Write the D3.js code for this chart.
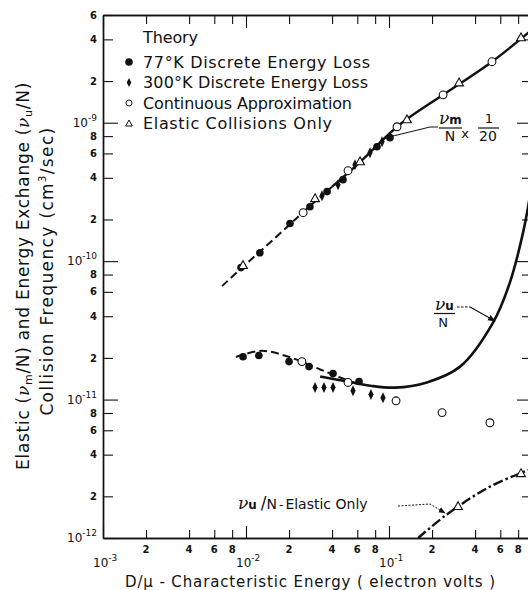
<!DOCTYPE html>
<html>
<head>
<meta charset="utf-8">
<script src="https://cdn.jsdelivr.net/npm/d3@7"></script>
<style>
  html, body { margin: 0; padding: 0; background: #fff; }
  svg { display: block; font-family: "DejaVu Sans", sans-serif; }
</style>
</head>
<body>
<div id="chart"></div>
<script>
const W = 528;
const H = 590;

// axis ticks
const xMajorTicks = [1e-3, 1e-2, 1e-1, 1];
const xMinorTicks = [2e-3, 4e-3, 6e-3, 8e-3, 2e-2, 4e-2, 6e-2, 8e-2, 2e-1, 4e-1, 6e-1, 8e-1];
const xMinorLabels = ['2', '4', '6', '8', '2', '4', '6', '8', '2', '4', '6', '8'];
const xMajorLabels = ['-3', '-2', '-1'];
const yMajorTicks = [1e-12, 1e-11, 1e-10, 1e-9];
const yMinorTicks = [2e-12, 4e-12, 6e-12, 8e-12, 2e-11, 4e-11, 6e-11, 8e-11,
  2e-10, 4e-10, 6e-10, 8e-10, 2e-9, 4e-9, 6e-9];
const yMinorLabels = ['2', '4', '6', '8', '2', '4', '6', '8', '2', '4', '6', '8', '2', '4', '6'];
const yMajorLabels = ['-12', '-11', '-10', '-9'];

// theory curves  [D/mu (eV), frequency (cm^3/sec)]
const vmDashed = [[0.0068, 6.6e-11], [0.0095, 9.1e-11], [0.0125, 1.17e-10], [0.02, 1.82e-10],
  [0.025, 2.25e-10], [0.04, 3.45e-10]];
const vmSolid = [[0.04, 3.45e-10], [0.0627, 5.2e-10], [0.119, 9.7e-10], [0.239, 1.59e-9],
  [0.525, 2.76e-9], [0.95, 4.5e-9]];
const vuDashed = [[0.0085, 2.03e-11], [0.0129, 2.25e-11], [0.0203, 2.02e-11], [0.033, 1.65e-11],
  [0.045, 1.45e-11], [0.06, 1.3e-11]];
const vuSolid = [[0.033, 1.47e-11], [0.049, 1.36e-11], [0.074, 1.26e-11], [0.11, 1.22e-11],
  [0.184, 1.33e-11], [0.314, 1.73e-11], [0.534, 3.6e-11], [0.70, 7.0e-11], [0.865, 1.6e-10],
  [0.97, 3.0e-10]];
const vuElastic = [[0.16, 1e-12], [0.254, 1.48e-12], [0.508, 2.35e-12], [0.95, 3.1e-12]];

// measured points
const pts77K = [[0.00923, 8.98e-11], [0.0125, 1.15e-10], [0.0203, 1.87e-10], [0.028, 2.47e-10],
  [0.0369, 3.18e-10], [0.0477, 3.88e-10], [0.0824, 6.71e-10], [0.1016, 7.8e-10],
  [0.00953, 2.04e-11], [0.0123, 2.08e-11], [0.020, 1.88e-11], [0.0276, 1.73e-11],
  [0.0406, 1.54e-11], [0.0617, 1.35e-11]];
const pts300K = [[0.034, 2.97e-10], [0.044, 3.57e-10], [0.0578, 4.97e-10], [0.0736, 6.07e-10],
  [0.0894, 7.29e-10],
  [0.0304, 1.22e-11], [0.0351, 1.22e-11], [0.0406, 1.22e-11], [0.056, 1.16e-11],
  [0.0748, 1.09e-11], [0.0908, 1.03e-11]];
const ptsContinuous = [[0.0251, 2.24e-10], [0.0517, 4.5e-10], [0.1138, 9.35e-10], [0.239, 1.59e-9],
  [0.525, 2.76e-9],
  [0.0246, 1.88e-11], [0.0517, 1.33e-11], [0.112, 9.8e-12], [0.235, 8.05e-12], [0.508, 6.8e-12]];
const ptsElastic = [[0.00953, 9.3e-11], [0.0304, 2.83e-10], [0.0627, 5.23e-10], [0.1336, 1.05e-9],
  [0.309, 1.94e-9], [0.838, 4.11e-9],
  [0.304, 1.69e-12], [0.838, 2.92e-12]];

const legendItems = [
  { label: '77°K Discrete Energy Loss', kind: 'dot', len: 227 },
  { label: '300°K Discrete Energy Loss', kind: 'diamond', len: 225 },
  { label: 'Continuous Approximation', kind: 'ring', len: 209 },
  { label: 'Elastic Collisions Only', kind: 'tri', len: 189 }
];

const x = d3.scaleLog().domain([1e-3, 1]).range([103, 532]);
const y = d3.scaleLog().domain([1e-12, 6e-9]).range([538, 15]);

const svg = d3.select('#chart').append('svg')
  .attr('width', W).attr('height', H)
  .attr('viewBox', `0 0 ${W} ${H}`);

const ink = '#111';

svg.append('defs').append('marker')
  .attr('id', 'arrow')
  .attr('viewBox', '0 0 10 10')
  .attr('refX', 9).attr('refY', 5)
  .attr('markerWidth', 7).attr('markerHeight', 7)
  .attr('orient', 'auto')
  .append('path').attr('d', 'M0,1 L10,5 L0,9 Z').attr('fill', ink);

svg.select('defs').append('clipPath').attr('id', 'plot-clip')
  .append('rect').attr('x', 103).attr('y', 15).attr('width', 429).attr('height', 523);

// stretch a (multi-tspan) text to a target length with letter-spacing
function fitText(sel, target) {
  const node = sel.node();
  const natural = node.getComputedTextLength();
  const n = node.textContent.length;
  sel.attr('letter-spacing', ((target - natural) / n).toFixed(2));
}

// frame + ticks
function tickAxis(axis, ticks, len, transform) {
  svg.append('g')
    .attr('transform', transform)
    .call(axis.tickValues(ticks).tickSizeInner(-len).tickSizeOuter(0).tickFormat(''))
    .call((g) => g.selectAll('line').attr('stroke', ink).attr('stroke-width', 1.1))
    .call((g) => g.select('.domain').attr('stroke', ink).attr('stroke-width', 1.4));
}
tickAxis(d3.axisLeft(y), yMinorTicks, 10, 'translate(103,0)');
tickAxis(d3.axisLeft(y), yMajorTicks, 15, 'translate(103,0)');
tickAxis(d3.axisRight(y), yMinorTicks, 10, 'translate(532,0)');
tickAxis(d3.axisRight(y), yMajorTicks, 15, 'translate(532,0)');
tickAxis(d3.axisBottom(x), xMinorTicks, 8, 'translate(0,538)');
tickAxis(d3.axisBottom(x), xMajorTicks, 12, 'translate(0,538)');
tickAxis(d3.axisTop(x), xMinorTicks, 9, 'translate(0,15)');
tickAxis(d3.axisTop(x), xMajorTicks, 13, 'translate(0,15)');

// tick labels
const labels = svg.append('g').attr('fill', ink);
labels.selectAll('.ym').data(yMinorTicks).join('text')
  .attr('x', 97).attr('y', (d) => y(d) + 3.6)
  .attr('text-anchor', 'end').attr('font-size', 10).attr('font-weight', 'bold')
  .text((d, i) => yMinorLabels[i]);
yMajorTicks.forEach((d, i) => {
  const t = labels.append('text').attr('x', 97).attr('y', y(d) + 4)
    .attr('text-anchor', 'end').attr('font-size', 12);
  t.append('tspan').text('10');
  t.append('tspan').attr('dy', -6).attr('font-size', 9).text(yMajorLabels[i]);
});
labels.selectAll('.xm').data(xMinorTicks).join('text')
  .attr('x', (d) => x(d)).attr('y', 553)
  .attr('text-anchor', 'middle').attr('font-size', 10).attr('font-weight', 'bold')
  .text((d, i) => xMinorLabels[i]);
xMajorTicks.slice(0, 3).forEach((d, i) => {
  const t = labels.append('text').attr('x', x(d) - 10).attr('y', 567).attr('font-size', 12);
  t.append('tspan').text('10');
  t.append('tspan').attr('dy', -6).attr('font-size', 9).text(xMajorLabels[i]);
});

// curves
const line = d3.line().x((d) => x(d[0])).y((d) => y(d[1])).curve(d3.curveCatmullRom.alpha(0.5));
const curves = svg.append('g').attr('clip-path', 'url(#plot-clip)').attr('fill', 'none').attr('stroke', ink);
curves.append('path').attr('d', line(vmDashed)).attr('stroke-width', 2).attr('stroke-dasharray', '8,4');
curves.append('path').attr('d', line(vmSolid)).attr('stroke-width', 2.4);
curves.append('path').attr('d', line(vuDashed)).attr('stroke-width', 2).attr('stroke-dasharray', '8,4');
curves.append('path').attr('d', line(vuSolid)).attr('stroke-width', 2.6);
curves.append('path').attr('d', line(vuElastic)).attr('stroke-width', 2.4).attr('stroke-dasharray', '10,3,2.5,3');

// markers
const shapes = {
  dot: (g) => g.append('circle').attr('r', 3.8).attr('fill', ink),
  ring: (g) => g.append('circle').attr('r', 3.9).attr('fill', '#fff').attr('stroke', ink).attr('stroke-width', 1.1),
  diamond: (g) => g.append('path').attr('d', 'M0,-5.5 L2.6,0 L0,5.5 L-2.6,0 Z').attr('fill', ink),
  tri: (g) => g.append('path').attr('d', 'M0,-4.8 L4.4,3 L-4.4,3 Z').attr('fill', '#fff')
    .attr('stroke', ink).attr('stroke-width', 1.1)
};
function drawPoints(data, kind) {
  const g = svg.append('g').attr('clip-path', 'url(#plot-clip)');
  data.forEach((d) => {
    shapes[kind](g.append('g').attr('transform', `translate(${x(d[0])},${y(d[1])})`));
  });
}
drawPoints(pts77K, 'dot');
drawPoints(pts300K, 'diamond');
drawPoints(ptsContinuous, 'ring');
drawPoints(ptsElastic, 'tri');

// legend
const legend = svg.append('g').attr('fill', ink).attr('font-size', 16);
legend.append('text').attr('x', 143).attr('y', 43).attr('textLength', 55).text('Theory');
legendItems.forEach((item, i) => {
  const cy = 62 + i * 20.5;
  const g = legend.append('g').attr('transform', `translate(129,${cy})`);
  if (item.kind === 'dot') g.append('circle').attr('r', 3.8).attr('fill', ink);
  if (item.kind === 'diamond') g.append('path').attr('d', 'M0,-4.5 L2.3,0 L0,4.5 L-2.3,0 Z').attr('fill', ink);
  if (item.kind === 'ring') g.append('circle').attr('r', 3).attr('fill', 'none').attr('stroke', ink);
  if (item.kind === 'tri') g.append('path').attr('d', 'M0,-3.5 L3.3,2.5 L-3.3,2.5 Z').attr('fill', 'none').attr('stroke', ink);
  legend.append('text').attr('x', 143).attr('y', cy + 5.5)
    .attr('textLength', item.len).attr('lengthAdjust', 'spacing').text(item.label);
});

// annotations
const ann = svg.append('g').attr('fill', ink);
function nu(sel, sub, size) {
  sel.append('tspan').attr('font-family', 'DejaVu Serif').attr('font-style', 'italic')
    .attr('font-size', size).text('ν');
  sel.append('tspan').attr('font-size', size * 0.7).attr('font-weight', 'bold').text(sub);
}
// nu_m / N x 1/20
nu(ann.append('text').attr('x', 439).attr('y', 124), 'm', 17);
ann.append('line').attr('x1', 439).attr('x2', 462).attr('y1', 128).attr('y2', 128).attr('stroke', ink).attr('stroke-width', 1.2);
ann.append('text').attr('x', 450).attr('y', 141).attr('text-anchor', 'middle').attr('font-size', 14).text('N');
ann.append('text').attr('x', 465).attr('y', 138).attr('text-anchor', 'middle').attr('font-size', 13).text('x');
ann.append('text').attr('x', 489).attr('y', 123).attr('text-anchor', 'middle').attr('font-size', 13).text('1');
ann.append('line').attr('x1', 478).attr('x2', 499).attr('y1', 128).attr('y2', 128).attr('stroke', ink).attr('stroke-width', 1.2);
ann.append('text').attr('x', 488).attr('y', 141).attr('text-anchor', 'middle').attr('font-size', 14).text('20');
ann.append('polyline').attr('points', '438,127 430,127 385,138')
  .attr('fill', 'none').attr('stroke', ink).attr('stroke-width', 1).attr('marker-end', 'url(#arrow)');

// nu_u / N
nu(ann.append('text').attr('x', 435).attr('y', 310), 'u', 17);
ann.append('line').attr('x1', 434).attr('x2', 455).attr('y1', 313.5).attr('y2', 313.5).attr('stroke', ink).attr('stroke-width', 1.2);
ann.append('text').attr('x', 443).attr('y', 327).attr('text-anchor', 'middle').attr('font-size', 13).text('N');
ann.append('path').attr('d', 'M457,307 L470,307')
  .attr('fill', 'none').attr('stroke', ink).attr('stroke-width', 1).attr('stroke-dasharray', '2.5,1.5');
ann.append('path').attr('d', 'M470,307 L495,321')
  .attr('fill', 'none').attr('stroke', ink).attr('stroke-width', 1.1).attr('marker-end', 'url(#arrow)');

// nu_u / N - Elastic Only
const eo = ann.append('text').attr('x', 238).attr('y', 509).attr('font-size', 14);
nu(eo, 'u', 17);
eo.append('tspan').attr('dx', 4).attr('font-size', 17).text('/');
eo.append('tspan').text('N');
eo.append('tspan').attr('dx', 2).attr('font-size', 12).text('-');
eo.append('tspan').attr('dx', 2).text('Elastic Only');
ann.append('path').attr('d', 'M398,506 L430,504 L445,513')
  .attr('fill', 'none').attr('stroke', ink).attr('stroke-width', 1).attr('stroke-dasharray', '2,1.5')
  .attr('marker-end', 'url(#arrow)');

// axis titles
const yt1 = svg.append('text').attr('transform', 'translate(29,276) rotate(-90)')
  .attr('text-anchor', 'middle').attr('font-size', 17).attr('fill', ink);
yt1.append('tspan').text('Elastic (');
yt1.append('tspan').attr('font-family', 'DejaVu Serif').attr('font-style', 'italic').text('ν');
yt1.append('tspan').attr('font-size', 11).attr('dy', 3).text('m');
yt1.append('tspan').attr('dy', -3).text('/N) and Energy Exchange (');
yt1.append('tspan').attr('font-family', 'DejaVu Serif').attr('font-style', 'italic').text('ν');
yt1.append('tspan').attr('font-size', 11).attr('dy', 3).text('u');
yt1.append('tspan').attr('dy', -3).text('/N)');
fitText(yt1, 388);

const yt2 = svg.append('text').attr('transform', 'translate(53,271) rotate(-90)')
  .attr('text-anchor', 'middle').attr('font-size', 17).attr('fill', ink);
yt2.append('tspan').text('Collision  Frequency  (cm');
yt2.append('tspan').attr('font-size', 10).attr('dy', -7).text('3');
yt2.append('tspan').attr('dy', 7).text('/sec)');
fitText(yt2, 292);

svg.append('text').attr('x', 310).attr('y', 587).attr('text-anchor', 'middle')
  .attr('font-size', 15).attr('fill', ink)
  .attr('textLength', 370).attr('lengthAdjust', 'spacing')
  .text('D/μ - Characteristic  Energy ( electron volts )');
</script>
</body>
</html>
